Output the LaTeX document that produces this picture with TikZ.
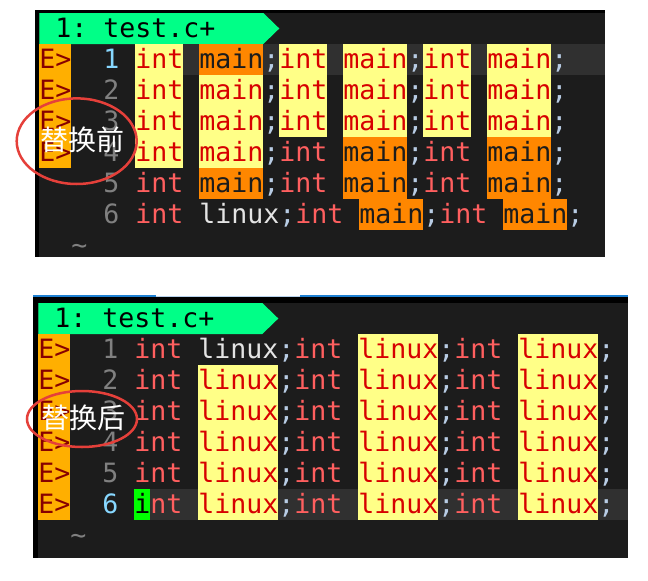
\documentclass[tikz,border=0pt]{standalone}
\usepackage{fontspec}
\newfontfamily\mono{DejaVu Sans Mono}
\newfontfamily\cjk{Noto Sans CJK SC}
\definecolor{bgd}{HTML}{1C1C1C}
\definecolor{cline}{HTML}{303030}
\definecolor{hlY}{HTML}{FFFF87}
\definecolor{hlO}{HTML}{FF8700}
\definecolor{kwR}{HTML}{D70000}
\definecolor{kwS}{HTML}{FF5F5F}
\definecolor{semi}{HTML}{B8CCE4}
\definecolor{fgW}{HTML}{E4E4E4}
\definecolor{numG}{HTML}{808080}
\definecolor{numB}{HTML}{87D7FF}
\definecolor{signO}{HTML}{FFAF00}
\definecolor{signR}{HTML}{870000}
\definecolor{tabG}{HTML}{00FF87}
\definecolor{curG}{HTML}{00FF00}
\definecolor{ringR}{HTML}{E5403A}
\definecolor{barB}{HTML}{1E80D2}
\definecolor{barL}{HTML}{B8D2EC}
\tikzset{
  cell/.style={inner sep=0pt, outer sep=0pt, anchor=base west, font=\mono\fontsize{26.6}{31}\selectfont\frenchspacing},
  ring/.style={draw=ringR, line width=2.5pt},
  label/.style={inner sep=0pt, anchor=base, text=white, font=\cjk\fontsize{28}{32}\selectfont}
}
\newcommand\tx[4]{\node[cell,text=#3] (\pfx-#1-#2) at (#1,{#2+24/31}) {#4};}
\newcommand\hy[4]{\fill[hlY] (#1,#2) rectangle ({#1+#3},{#2+1}); \tx{#1}{#2}{kwR}{#4}}
\newcommand\ho[4]{\fill[hlO] (#1,#2) rectangle ({#1+#3},{#2+1}); \tx{#1}{#2}{bgd}{#4}}
\newcommand\ks[2]{\tx{#1}{#2}{kwS}{int}}
\newcommand\sm[2]{\tx{#1}{#2}{semi}{;}}
\def\pfx{t}
\begin{document}
\begin{tikzpicture}[x=1pt,y=1pt]
\useasboundingbox[fill=white] (0,0) rectangle (648,-581);
% ---------------- top panel ----------------
\fill[black] (35,-10) rectangle (605,-257);
\fill[bgd] (39.3,-13) rectangle (605,-257);
\begin{scope}[shift={(39.3pt,-13pt)}, x=16pt, y=-31pt]
\def\pfx{t}
\fill[tabG] (0,0) -- (14,0) -- (15,0.5) -- (14,1) -- (0,1) -- cycle;
\tx{1}{0}{black}{1: test.c+}
\fill[signO] (0,1) rectangle (2,5);
\foreach \r in {1,2,3,4} {\tx{0}{\r}{signR}{E>}}
\tx{4}{1}{numB}{1}
\foreach \r in {2,3,4,5,6} {\tx{4}{\r}{numG}{\r}}
% line 1
\fill[cline] (6,1) rectangle (35.36,2);
\hy{6}{1}{3}{int}\ho{10}{1}{4}{main}\sm{14}{1}
\hy{15}{1}{3}{int}\hy{19}{1}{4}{main}\sm{23}{1}
\hy{24}{1}{3}{int}\hy{28}{1}{4}{main}\sm{32}{1}
% lines 2,3
\foreach \r in {2,3} {
\hy{6}{\r}{3}{int}\hy{10}{\r}{4}{main}\sm{14}{\r}
\hy{15}{\r}{3}{int}\hy{19}{\r}{4}{main}\sm{23}{\r}
\hy{24}{\r}{3}{int}\hy{28}{\r}{4}{main}\sm{32}{\r}
}
% line 4
\hy{6}{4}{3}{int}\hy{10}{4}{4}{main}\sm{14}{4}
\ks{15}{4}\ho{19}{4}{4}{main}\sm{23}{4}
\ks{24}{4}\ho{28}{4}{4}{main}\sm{32}{4}
% line 5
\ks{6}{5}\ho{10}{5}{4}{main}\sm{14}{5}
\ks{15}{5}\ho{19}{5}{4}{main}\sm{23}{5}
\ks{24}{5}\ho{28}{5}{4}{main}\sm{32}{5}
% line 6
\ks{6}{6}\tx{10}{6}{fgW}{linux}\sm{15}{6}
\ks{16}{6}\ho{20}{6}{4}{main}\sm{24}{6}
\ks{25}{6}\ho{29}{6}{4}{main}\sm{33}{6}
\tx{2}{7}{numG}{\char`\~}
\end{scope}
% ---------------- bottom panel ----------------
\fill[barB] (33,-295) rectangle (156,-297.2);
\fill[barL] (156,-295.5) rectangle (300,-297.2);
\fill[barB] (300,-295) rectangle (628,-297.2);
\fill[black] (33,-297.2) rectangle (628,-558);
\fill[bgd] (38.3,-303) rectangle (628,-558);
\begin{scope}[shift={(38.3pt,-303pt)}, x=16pt, y=-31pt]
\def\pfx{b}
\fill[tabG] (0,0) -- (14,0) -- (15,0.5) -- (14,1) -- (0,1) -- cycle;
\tx{1}{0}{black}{1: test.c+}
\fill[signO] (0,1) rectangle (2,7);
\foreach \r in {1,2,3,4,5,6} {\tx{0}{\r}{signR}{E>}}
\foreach \r in {1,2,3,4,5} {\tx{4}{\r}{numG}{\r}}
\tx{4}{6}{numB}{6}
% line 1
\ks{6}{1}\tx{10}{1}{fgW}{linux}\sm{15}{1}
\ks{16}{1}\hy{20}{1}{5}{linux}\sm{25}{1}
\ks{26}{1}\hy{30}{1}{5}{linux}\sm{35}{1}
% lines 2-5
\foreach \r in {2,3,4,5} {
\ks{6}{\r}\hy{10}{\r}{5}{linux}\sm{15}{\r}
\ks{16}{\r}\hy{20}{\r}{5}{linux}\sm{25}{\r}
\ks{26}{\r}\hy{30}{\r}{5}{linux}\sm{35}{\r}
}
% line 6 (cursor line)
\fill[cline] (6,6) rectangle (36.86,7);
\fill[curG] (6,6) rectangle (7,7);
\tx{6}{6}{black}{i}
\tx{7}{6}{kwS}{nt}\hy{10}{6}{5}{linux}\sm{15}{6}
\ks{16}{6}\hy{20}{6}{5}{linux}\sm{25}{6}
\ks{26}{6}\hy{30}{6}{5}{linux}\sm{35}{6}
\tx{2}{7}{numG}{\char`\~}
\end{scope}
% ---------------- annotations ----------------
\draw[ring] (76.7,-141.2) ellipse [x radius=60, y radius=42.8];
\node[label] (before) at (82,-150.5) {替换前};
\draw[ring] (82,-419) ellipse [x radius=55, y radius=28];
\node[label] (after) at (83,-428.6) {替换后};
\end{tikzpicture}
\end{document}
